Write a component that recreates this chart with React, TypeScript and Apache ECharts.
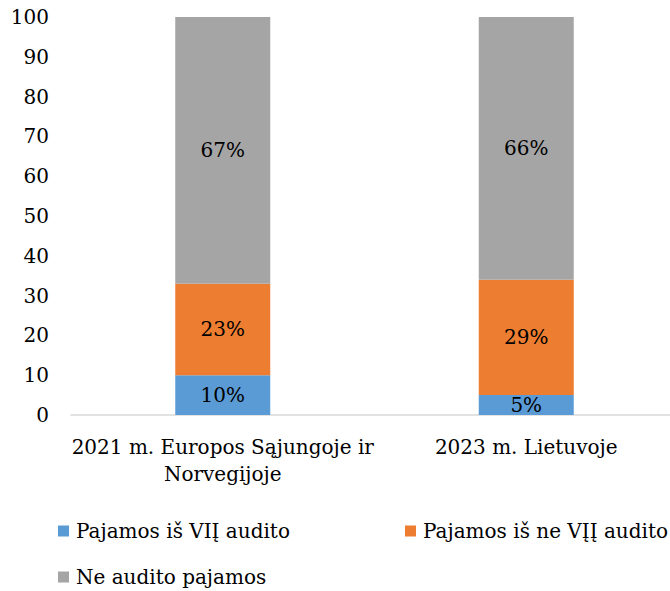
import React, { useEffect, useRef } from "react";
import * as echarts from "echarts";

const categories = ["2021 m. Europos Sąjungoje ir\nNorvegijoje", "2023 m. Lietuvoje"];
const seriesNames = ["Pajamos iš VIĮ audito", "Pajamos iš ne VĮĮ audito", "Ne audito pajamos"];
const viiValues = [10, 5];
const neViiValues = [23, 29];
const neAuditoValues = [67, 66];
const colors = ["#5b9bd5", "#ed7d31", "#a5a5a5"];
const yTicks = { min: 0, max: 100, interval: 10 };

const FONT = "DejaVu Serif";
const FS = 20;

export default function App() {
  const ref = useRef<HTMLDivElement>(null);
  useEffect(() => {
    if (!ref.current) return;
    const chart = echarts.init(ref.current, undefined, { renderer: "svg" });
    const values = [viiValues, neViiValues, neAuditoValues];
    const label = {
      show: true,
      position: "inside",
      color: "#000",
      fontFamily: FONT,
      fontSize: FS,
      formatter: (p: any) => p.value + "%",
    };
    chart.setOption({
      animation: false,
      textStyle: { fontFamily: FONT },
      grid: { left: 71, right: 2, top: 17, bottom: 176, containLabel: false },
      xAxis: {
        type: "category",
        data: categories,
        axisLine: { show: true, lineStyle: { color: "#d9d9d9", width: 1.5 } },
        axisTick: { show: false },
        axisLabel: {
          color: "#000",
          fontFamily: FONT,
          fontSize: FS,
          lineHeight: 27,
          margin: 18,
          interval: 0,
        },
      },
      yAxis: {
        type: "value",
        min: yTicks.min,
        max: yTicks.max,
        interval: yTicks.interval,
        axisLine: { show: false },
        axisTick: { show: false },
        splitLine: { show: false },
        axisLabel: { color: "#000", fontFamily: FONT, fontSize: FS, margin: 22 },
      },
      legend: [0, 1, 2].map((i) => ({
        data: [seriesNames[i]],
        left: i === 1 ? 400 : 53,
        top: i === 2 ? 562 : 516,
        itemWidth: 11,
        itemHeight: 11,
        itemGap: 0,
        icon: "rect",
        textStyle: { color: "#000", fontFamily: FONT, fontSize: FS, padding: [0, 0, 0, 2] },
      })),
      series: [0, 1, 2].map((i) => ({
        name: seriesNames[i],
        type: "bar",
        stack: "total",
        barWidth: 95,
        data: values[i],
        itemStyle: { color: colors[i] },
        label,
      })),
    });
    return () => chart.dispose();
  }, []);
  return (
    <div style={{ position: "absolute", left: 0, top: 0, width: 670, height: 591, overflow: "hidden" }}>
      <div ref={ref} style={{ width: 680, height: 591 }} />
    </div>
  );
}
